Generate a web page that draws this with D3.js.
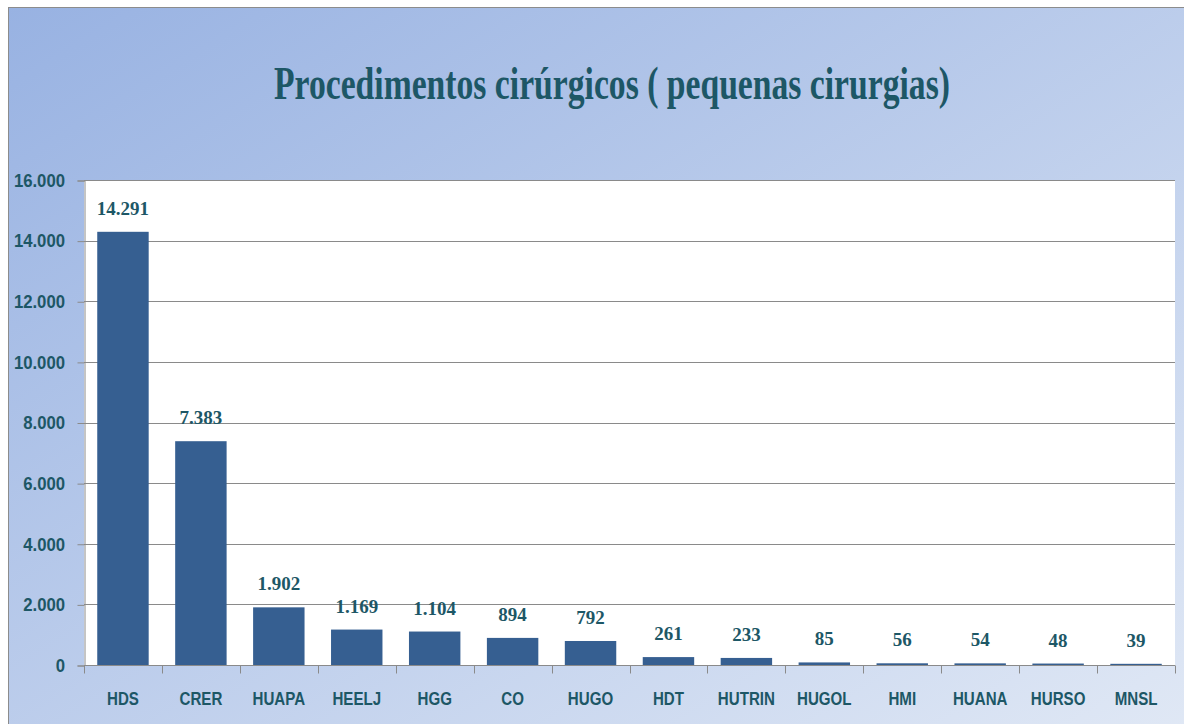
<!DOCTYPE html>
<html>
<head>
<meta charset="utf-8">
<script src="https://cdn.jsdelivr.net/npm/d3@7"></script>
<style>
  body { margin: 0; background: #fff; }
  .ylab, .xlab { font-family: "Liberation Sans", Arial, sans-serif; font-weight: bold; fill: #1d5766; }
  .vlab, .title { font-family: "Liberation Serif", "Times New Roman", serif; font-weight: bold; fill: #1d5766; }
</style>
</head>
<body>
<div id="chart"></div>
<script>
// data
var hospitals = ["HDS", "CRER", "HUAPA", "HEELJ", "HGG", "CO", "HUGO", "HDT", "HUTRIN", "HUGOL", "HMI", "HUANA", "HURSO", "MNSL"];
var procedures = [14291, 7383, 1902, 1169, 1104, 894, 792, 261, 233, 85, 56, 54, 48, 39];
var yTicks = [0, 2000, 4000, 6000, 8000, 10000, 12000, 14000, 16000];
var titleText = "Procedimentos cirúrgicos ( pequenas cirurgias)";

var W = 1184, H = 724;
var plot = { left: 84, right: 1175, top: 180, bottom: 665 };
var narrow = 0.88; // condensed look for the axis labels

var fmt = d3.formatLocale({ decimal: ",", thousands: ".", grouping: [3], currency: ["", ""] }).format(",d");

var svg = d3.select("#chart").append("svg")
    .attr("width", W)
    .attr("height", H);

// background gradient
var grad = svg.append("defs").append("linearGradient")
    .attr("id", "bg")
    .attr("x1", "0%").attr("y1", "0%")
    .attr("x2", "100%").attr("y2", "100%");
grad.append("stop").attr("offset", "0%").attr("stop-color", "#98b2e2");
grad.append("stop").attr("offset", "100%").attr("stop-color", "#e0e8f5");

svg.append("rect")
    .attr("x", 8.5).attr("y", 7.5)
    .attr("width", W).attr("height", H)
    .attr("fill", "url(#bg)")
    .attr("stroke", "#8c8c8c")
    .attr("stroke-width", 1);

// title, squeezed horizontally to the reference width
var title = svg.append("text")
    .attr("class", "title")
    .attr("text-anchor", "middle")
    .attr("font-size", 46)
    .text(titleText);
var tw = title.node().getComputedTextLength();
title.attr("transform", `translate(612,99) scale(${676 / tw},1)`);

/* Scales */
var x = d3.scaleBand()
    .domain(hospitals)
    .range([plot.left, plot.right])
    .paddingInner(0.34)
    .paddingOuter(0.17);

var y = d3.scaleLinear()
    .domain([0, 16000])
    .range([plot.bottom, plot.top]);

// plot area
svg.append("rect")
    .attr("x", plot.left).attr("y", plot.top)
    .attr("width", plot.right - plot.left)
    .attr("height", plot.bottom - plot.top)
    .attr("fill", "#fff");

// gridlines
svg.append("g")
    .selectAll("line")
    .data(yTicks).enter()
    .append("line")
    .attr("x1", plot.left)
    .attr("x2", plot.right)
    .attr("y1", d => Math.round(y(d)) + 0.5)
    .attr("y2", d => Math.round(y(d)) + 0.5)
    .attr("stroke", "#8a8a8a")
    .attr("stroke-width", 1);

// y axis
var yAxis = svg.append("g")
    .attr("transform", `translate(${plot.left + 0.5},0.5)`)
    .call(d3.axisLeft(y).tickValues(yTicks).tickSize(7).tickFormat(""));
yAxis.select(".domain").attr("stroke", "#8a8a8a");
yAxis.selectAll(".tick line").attr("stroke", "#8a8a8a");

svg.append("g")
    .selectAll("text")
    .data(yTicks).enter()
    .append("text")
    .attr("class", "ylab")
    .attr("text-anchor", "end")
    .attr("dy", "0.36em")
    .attr("font-size", 19)
    .attr("transform", d => `translate(65,${y(d)}) scale(${narrow},1)`)
    .text(d => fmt(d));

// x axis with ticks between categories
var xAxisG = svg.append("g")
    .attr("transform", `translate(0,${plot.bottom + 0.5})`);
xAxisG.append("line")
    .attr("x1", plot.left).attr("x2", plot.right)
    .attr("stroke", "#8a8a8a");
var step = x.step();
var bounds = d3.range(hospitals.length + 1).map(i => plot.left + i * step);
xAxisG.selectAll(".sep")
    .data(bounds).enter()
    .append("line")
    .attr("x1", d => Math.round(d) + 0.5)
    .attr("x2", d => Math.round(d) + 0.5)
    .attr("y1", 0).attr("y2", 8)
    .attr("stroke", "#8a8a8a");
xAxisG.selectAll(".xlab")
    .data(hospitals).enter()
    .append("text")
    .attr("class", "xlab")
    .attr("text-anchor", "middle")
    .attr("font-size", 18)
    .attr("transform", d => `translate(${x(d) + x.bandwidth() / 2},39) scale(0.84,1)`)
    .text(d => d);

// bars
svg.append("g")
    .selectAll("rect")
    .data(procedures).enter()
    .append("rect")
    .attr("x", (d, i) => x(hospitals[i]))
    .attr("y", d => y(d))
    .attr("width", x.bandwidth())
    .attr("height", d => y(0) - y(d))
    .attr("fill", "#365f91");

// value labels
svg.append("g")
    .selectAll("text")
    .data(procedures).enter()
    .append("text")
    .attr("class", "vlab")
    .attr("x", (d, i) => x(hospitals[i]) + x.bandwidth() / 2)
    .attr("y", d => y(d) - 17)
    .attr("text-anchor", "middle")
    .attr("font-size", 19)
    .text(d => fmt(d));
</script>
</body>
</html>
